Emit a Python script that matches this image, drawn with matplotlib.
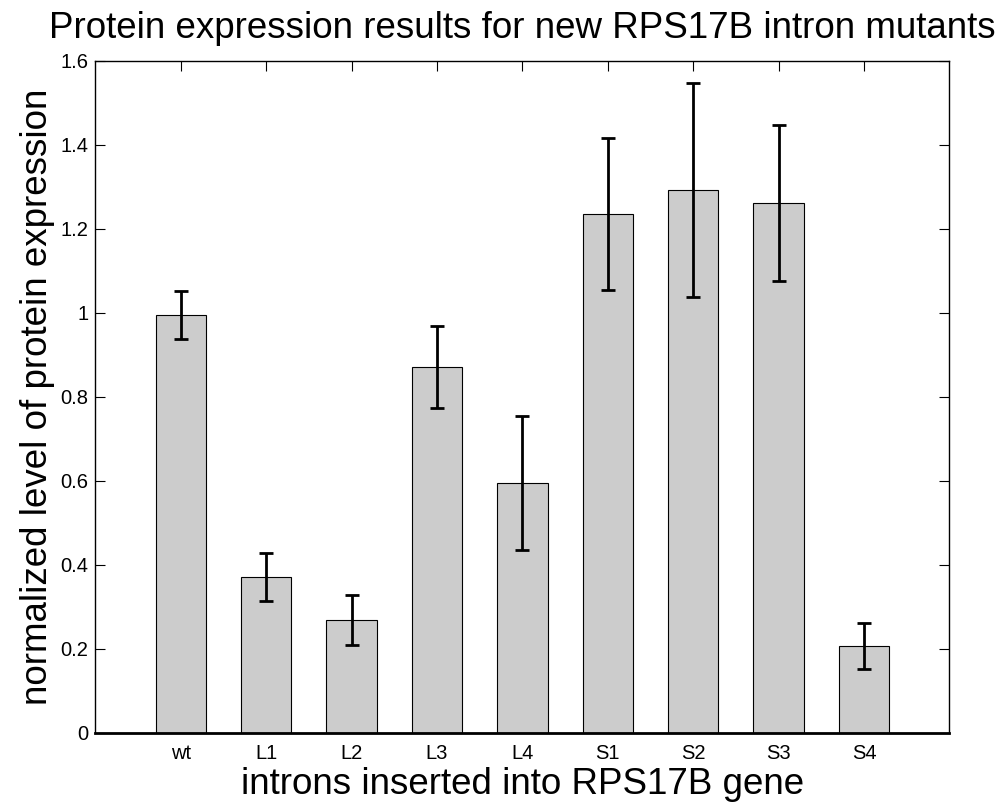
import matplotlib
matplotlib.use("Agg")
import matplotlib.pyplot as plt

categories = ["wt", "L1", "L2", "L3", "L4", "S1", "S2", "S3", "S4"]
values = [0.994, 0.371, 0.268, 0.870, 0.594, 1.235, 1.292, 1.261, 0.206]
errors = [0.0575, 0.057, 0.060, 0.0976, 0.160, 0.182, 0.255, 0.186, 0.055]
yticks = [0, 0.2, 0.4, 0.6, 0.8, 1.0, 1.2, 1.4, 1.6]
ytick_labels = ["0", "0.2", "0.4", "0.6", "0.8", "1", "1.2", "1.4", "1.6"]

plt.rcParams['font.family'] = ['Liberation Sans', 'DejaVu Sans']

fig = plt.figure(figsize=(10.05, 8.06), dpi=100)
ax = fig.add_axes([95.4/1005, 1 - 732.7/806, (949.4-95.4)/1005, (732.7-60.7)/806])

x = list(range(1, len(categories) + 1))
ax.bar(x, values, width=0.59, color="#cccccc", edgecolor="black", linewidth=0.8, zorder=2)
ax.errorbar(x, values, yerr=errors, fmt="none", ecolor="black", elinewidth=2.0,
            capsize=4.7, capthick=2.0, zorder=3)

ax.set_xlim(0, 10)
ax.set_ylim(0, 1.6)
ax.set_xticks(x)
ax.set_xticklabels(categories, fontsize=14.5)
ax.set_yticks(yticks)
ax.set_yticklabels(ytick_labels, fontsize=14.5)
ax.tick_params(direction="in", top=True, right=True, length=7, width=0.8, pad=5)
ax.tick_params(axis="x", pad=8)
for s in ax.spines.values():
    s.set_linewidth(1.0)
ax.spines["bottom"].set_linewidth(2.0)
ax.spines["bottom"].set_zorder(4)

ax.set_title("Protein expression results for new RPS17B intron mutants", fontsize=26.5, pad=16)
ax.set_xlabel("introns inserted into RPS17B gene", fontsize=26.5, labelpad=3)
ax.set_ylabel("normalized level of protein expression", fontsize=26.5, labelpad=4)

fig.savefig("out.png", dpi=100)
